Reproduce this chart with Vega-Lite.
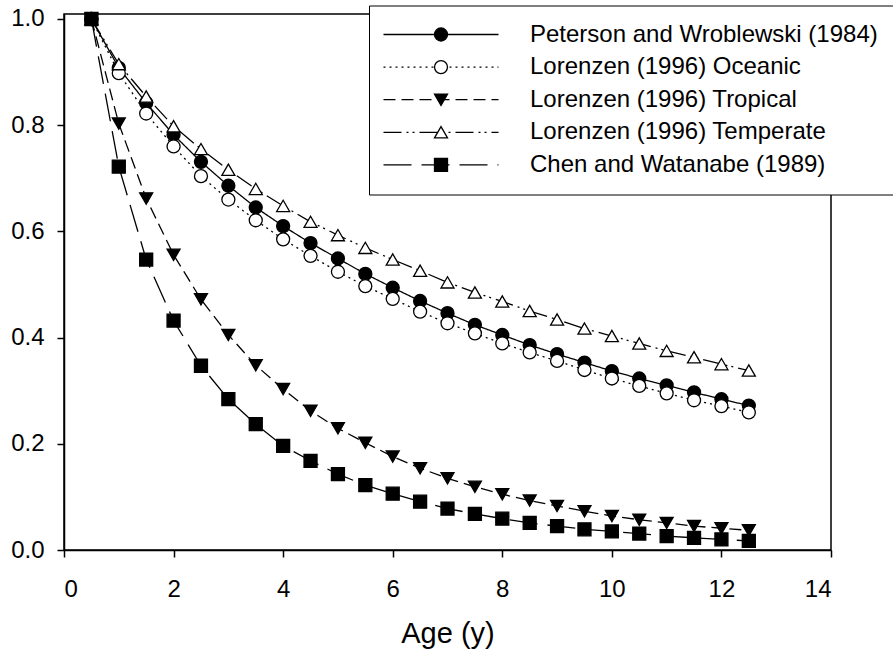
{
  "$schema": "https://vega.github.io/schema/vega-lite/v6.json",
  "autosize": {"type": "none"},
  "padding": {"left": 64, "top": 14, "right": 62, "bottom": 104},
  "width": 767,
  "height": 536,
  "background": "white",
  "config": {
    "view": {"stroke": "black", "strokeWidth": 1.5},
    "font": "Liberation Sans",
    "axis": {
      "grid": false,
      "domainColor": "black",
      "domainWidth": 1.5,
      "tickColor": "black",
      "tickWidth": 1.5,
      "tickSize": 7,
      "labelColor": "black",
      "labelFont": "Liberation Sans",
      "labelFontSize": 24,
      "titleFont": "Liberation Sans",
      "titleFontSize": 29,
      "titleFontWeight": "normal",
      "titleColor": "black"
    }
  },
  "data": {
    "values": [
      {"age": 0.5, "survival": 1.0, "study": "Peterson and Wroblewski (1984)"},
      {"age": 1.0, "survival": 0.908, "study": "Peterson and Wroblewski (1984)"},
      {"age": 1.5, "survival": 0.842, "study": "Peterson and Wroblewski (1984)"},
      {"age": 2.0, "survival": 0.782, "study": "Peterson and Wroblewski (1984)"},
      {"age": 2.5, "survival": 0.731, "study": "Peterson and Wroblewski (1984)"},
      {"age": 3.0, "survival": 0.686, "study": "Peterson and Wroblewski (1984)"},
      {"age": 3.5, "survival": 0.645, "study": "Peterson and Wroblewski (1984)"},
      {"age": 4.0, "survival": 0.610, "study": "Peterson and Wroblewski (1984)"},
      {"age": 4.5, "survival": 0.578, "study": "Peterson and Wroblewski (1984)"},
      {"age": 5.0, "survival": 0.549, "study": "Peterson and Wroblewski (1984)"},
      {"age": 5.5, "survival": 0.520, "study": "Peterson and Wroblewski (1984)"},
      {"age": 6.0, "survival": 0.494, "study": "Peterson and Wroblewski (1984)"},
      {"age": 6.5, "survival": 0.469, "study": "Peterson and Wroblewski (1984)"},
      {"age": 7.0, "survival": 0.446, "study": "Peterson and Wroblewski (1984)"},
      {"age": 7.5, "survival": 0.424, "study": "Peterson and Wroblewski (1984)"},
      {"age": 8.0, "survival": 0.405, "study": "Peterson and Wroblewski (1984)"},
      {"age": 8.5, "survival": 0.386, "study": "Peterson and Wroblewski (1984)"},
      {"age": 9.0, "survival": 0.369, "study": "Peterson and Wroblewski (1984)"},
      {"age": 9.5, "survival": 0.353, "study": "Peterson and Wroblewski (1984)"},
      {"age": 10.0, "survival": 0.337, "study": "Peterson and Wroblewski (1984)"},
      {"age": 10.5, "survival": 0.323, "study": "Peterson and Wroblewski (1984)"},
      {"age": 11.0, "survival": 0.310, "study": "Peterson and Wroblewski (1984)"},
      {"age": 11.5, "survival": 0.297, "study": "Peterson and Wroblewski (1984)"},
      {"age": 12.0, "survival": 0.284, "study": "Peterson and Wroblewski (1984)"},
      {"age": 12.5, "survival": 0.272, "study": "Peterson and Wroblewski (1984)"},
      {"age": 0.5, "survival": 1.0, "study": "Lorenzen (1996) Oceanic"},
      {"age": 1.0, "survival": 0.898, "study": "Lorenzen (1996) Oceanic"},
      {"age": 1.5, "survival": 0.822, "study": "Lorenzen (1996) Oceanic"},
      {"age": 2.0, "survival": 0.760, "study": "Lorenzen (1996) Oceanic"},
      {"age": 2.5, "survival": 0.704, "study": "Lorenzen (1996) Oceanic"},
      {"age": 3.0, "survival": 0.660, "study": "Lorenzen (1996) Oceanic"},
      {"age": 3.5, "survival": 0.621, "study": "Lorenzen (1996) Oceanic"},
      {"age": 4.0, "survival": 0.585, "study": "Lorenzen (1996) Oceanic"},
      {"age": 4.5, "survival": 0.554, "study": "Lorenzen (1996) Oceanic"},
      {"age": 5.0, "survival": 0.524, "study": "Lorenzen (1996) Oceanic"},
      {"age": 5.5, "survival": 0.497, "study": "Lorenzen (1996) Oceanic"},
      {"age": 6.0, "survival": 0.473, "study": "Lorenzen (1996) Oceanic"},
      {"age": 6.5, "survival": 0.449, "study": "Lorenzen (1996) Oceanic"},
      {"age": 7.0, "survival": 0.427, "study": "Lorenzen (1996) Oceanic"},
      {"age": 7.5, "survival": 0.408, "study": "Lorenzen (1996) Oceanic"},
      {"age": 8.0, "survival": 0.389, "study": "Lorenzen (1996) Oceanic"},
      {"age": 8.5, "survival": 0.372, "study": "Lorenzen (1996) Oceanic"},
      {"age": 9.0, "survival": 0.356, "study": "Lorenzen (1996) Oceanic"},
      {"age": 9.5, "survival": 0.339, "study": "Lorenzen (1996) Oceanic"},
      {"age": 10.0, "survival": 0.323, "study": "Lorenzen (1996) Oceanic"},
      {"age": 10.5, "survival": 0.309, "study": "Lorenzen (1996) Oceanic"},
      {"age": 11.0, "survival": 0.295, "study": "Lorenzen (1996) Oceanic"},
      {"age": 11.5, "survival": 0.282, "study": "Lorenzen (1996) Oceanic"},
      {"age": 12.0, "survival": 0.271, "study": "Lorenzen (1996) Oceanic"},
      {"age": 12.5, "survival": 0.259, "study": "Lorenzen (1996) Oceanic"},
      {"age": 0.5, "survival": 1.0, "study": "Lorenzen (1996) Tropical"},
      {"age": 1.0, "survival": 0.803, "study": "Lorenzen (1996) Tropical"},
      {"age": 1.5, "survival": 0.662, "study": "Lorenzen (1996) Tropical"},
      {"age": 2.0, "survival": 0.556, "study": "Lorenzen (1996) Tropical"},
      {"age": 2.5, "survival": 0.472, "study": "Lorenzen (1996) Tropical"},
      {"age": 3.0, "survival": 0.405, "study": "Lorenzen (1996) Tropical"},
      {"age": 3.5, "survival": 0.348, "study": "Lorenzen (1996) Tropical"},
      {"age": 4.0, "survival": 0.303, "study": "Lorenzen (1996) Tropical"},
      {"age": 4.5, "survival": 0.262, "study": "Lorenzen (1996) Tropical"},
      {"age": 5.0, "survival": 0.229, "study": "Lorenzen (1996) Tropical"},
      {"age": 5.5, "survival": 0.202, "study": "Lorenzen (1996) Tropical"},
      {"age": 6.0, "survival": 0.176, "study": "Lorenzen (1996) Tropical"},
      {"age": 6.5, "survival": 0.154, "study": "Lorenzen (1996) Tropical"},
      {"age": 7.0, "survival": 0.135, "study": "Lorenzen (1996) Tropical"},
      {"age": 7.5, "survival": 0.119, "study": "Lorenzen (1996) Tropical"},
      {"age": 8.0, "survival": 0.105, "study": "Lorenzen (1996) Tropical"},
      {"age": 8.5, "survival": 0.093, "study": "Lorenzen (1996) Tropical"},
      {"age": 9.0, "survival": 0.083, "study": "Lorenzen (1996) Tropical"},
      {"age": 9.5, "survival": 0.073, "study": "Lorenzen (1996) Tropical"},
      {"age": 10.0, "survival": 0.064, "study": "Lorenzen (1996) Tropical"},
      {"age": 10.5, "survival": 0.057, "study": "Lorenzen (1996) Tropical"},
      {"age": 11.0, "survival": 0.051, "study": "Lorenzen (1996) Tropical"},
      {"age": 11.5, "survival": 0.045, "study": "Lorenzen (1996) Tropical"},
      {"age": 12.0, "survival": 0.041, "study": "Lorenzen (1996) Tropical"},
      {"age": 12.5, "survival": 0.037, "study": "Lorenzen (1996) Tropical"},
      {"age": 0.5, "survival": 1.0, "study": "Lorenzen (1996) Temperate"},
      {"age": 1.0, "survival": 0.915, "study": "Lorenzen (1996) Temperate"},
      {"age": 1.5, "survival": 0.854, "study": "Lorenzen (1996) Temperate"},
      {"age": 2.0, "survival": 0.798, "study": "Lorenzen (1996) Temperate"},
      {"age": 2.5, "survival": 0.755, "study": "Lorenzen (1996) Temperate"},
      {"age": 3.0, "survival": 0.716, "study": "Lorenzen (1996) Temperate"},
      {"age": 3.5, "survival": 0.680, "study": "Lorenzen (1996) Temperate"},
      {"age": 4.0, "survival": 0.648, "study": "Lorenzen (1996) Temperate"},
      {"age": 4.5, "survival": 0.618, "study": "Lorenzen (1996) Temperate"},
      {"age": 5.0, "survival": 0.593, "study": "Lorenzen (1996) Temperate"},
      {"age": 5.5, "survival": 0.569, "study": "Lorenzen (1996) Temperate"},
      {"age": 6.0, "survival": 0.547, "study": "Lorenzen (1996) Temperate"},
      {"age": 6.5, "survival": 0.526, "study": "Lorenzen (1996) Temperate"},
      {"age": 7.0, "survival": 0.504, "study": "Lorenzen (1996) Temperate"},
      {"age": 7.5, "survival": 0.485, "study": "Lorenzen (1996) Temperate"},
      {"age": 8.0, "survival": 0.468, "study": "Lorenzen (1996) Temperate"},
      {"age": 8.5, "survival": 0.450, "study": "Lorenzen (1996) Temperate"},
      {"age": 9.0, "survival": 0.434, "study": "Lorenzen (1996) Temperate"},
      {"age": 9.5, "survival": 0.417, "study": "Lorenzen (1996) Temperate"},
      {"age": 10.0, "survival": 0.403, "study": "Lorenzen (1996) Temperate"},
      {"age": 10.5, "survival": 0.389, "study": "Lorenzen (1996) Temperate"},
      {"age": 11.0, "survival": 0.375, "study": "Lorenzen (1996) Temperate"},
      {"age": 11.5, "survival": 0.363, "study": "Lorenzen (1996) Temperate"},
      {"age": 12.0, "survival": 0.350, "study": "Lorenzen (1996) Temperate"},
      {"age": 12.5, "survival": 0.338, "study": "Lorenzen (1996) Temperate"},
      {"age": 0.5, "survival": 1.0, "study": "Chen and Watanabe (1989)"},
      {"age": 1.0, "survival": 0.722, "study": "Chen and Watanabe (1989)"},
      {"age": 1.5, "survival": 0.547, "study": "Chen and Watanabe (1989)"},
      {"age": 2.0, "survival": 0.432, "study": "Chen and Watanabe (1989)"},
      {"age": 2.5, "survival": 0.347, "study": "Chen and Watanabe (1989)"},
      {"age": 3.0, "survival": 0.284, "study": "Chen and Watanabe (1989)"},
      {"age": 3.5, "survival": 0.237, "study": "Chen and Watanabe (1989)"},
      {"age": 4.0, "survival": 0.196, "study": "Chen and Watanabe (1989)"},
      {"age": 4.5, "survival": 0.168, "study": "Chen and Watanabe (1989)"},
      {"age": 5.0, "survival": 0.143, "study": "Chen and Watanabe (1989)"},
      {"age": 5.5, "survival": 0.122, "study": "Chen and Watanabe (1989)"},
      {"age": 6.0, "survival": 0.106, "study": "Chen and Watanabe (1989)"},
      {"age": 6.5, "survival": 0.091, "study": "Chen and Watanabe (1989)"},
      {"age": 7.0, "survival": 0.078, "study": "Chen and Watanabe (1989)"},
      {"age": 7.5, "survival": 0.068, "study": "Chen and Watanabe (1989)"},
      {"age": 8.0, "survival": 0.059, "study": "Chen and Watanabe (1989)"},
      {"age": 8.5, "survival": 0.051, "study": "Chen and Watanabe (1989)"},
      {"age": 9.0, "survival": 0.045, "study": "Chen and Watanabe (1989)"},
      {"age": 9.5, "survival": 0.039, "study": "Chen and Watanabe (1989)"},
      {"age": 10.0, "survival": 0.035, "study": "Chen and Watanabe (1989)"},
      {"age": 10.5, "survival": 0.031, "study": "Chen and Watanabe (1989)"},
      {"age": 11.0, "survival": 0.026, "study": "Chen and Watanabe (1989)"},
      {"age": 11.5, "survival": 0.023, "study": "Chen and Watanabe (1989)"},
      {"age": 12.0, "survival": 0.020, "study": "Chen and Watanabe (1989)"},
      {"age": 12.5, "survival": 0.017, "study": "Chen and Watanabe (1989)"}
    ]
  },
  "encoding": {
    "x": {
      "field": "age",
      "type": "quantitative",
      "scale": {"domain": [0, 14], "nice": false, "zero": false},
      "axis": {
        "title": "Age (y)",
        "values": [0, 2, 4, 6, 8, 10, 12, 14],
        "format": "d",
        "labelPadding": 20,
        "titlePadding": 18
      }
    },
    "y": {
      "field": "survival",
      "type": "quantitative",
      "scale": {"domain": [0, 1.0094], "nice": false},
      "axis": {
        "title": null,
        "values": [0, 0.2, 0.4, 0.6, 0.8, 1.0],
        "format": ".1f",
        "labelPadding": 13
      }
    }
  },
  "layer": [
    {
      "mark": {"type": "line", "color": "black", "strokeWidth": 1.3},
      "encoding": {
        "strokeDash": {
          "field": "study",
          "type": "nominal",
          "scale": {
            "domain": ["Peterson and Wroblewski (1984)", "Lorenzen (1996) Oceanic", "Lorenzen (1996) Tropical", "Lorenzen (1996) Temperate", "Chen and Watanabe (1989)"],
            "range": [[1, 0], [2, 4], [12, 6], [18, 5, 2, 4, 2, 5], [28, 10]]
          },
          "legend": {
            "title": null,
            "orient": "none",
            "legendX": 305,
            "legendY": -8.5,
            "padding": 17,
            "rowPadding": 8.6,
            "symbolType": "M-5.75,0L5.75,0",
            "symbolSize": 400,
            "symbolStrokeColor": "black",
            "symbolStrokeWidth": 1.3,
            "symbolOffset": 43,
            "labelOffset": 77,
            "labelFont": "Liberation Sans",
            "labelFontSize": 24,
            "labelColor": "black",
            "labelLimit": 1000,
            "strokeColor": "black",
            "fillColor": "white",
            "zindex": 1,
            "encode": {"legend": {"strokeWidth": {"value": 1.6}}}
          }
        }
      }
    },
    {
      "mark": {"type": "point", "filled": true, "strokeWidth": 1.3, "size": 169, "opacity": 1},
      "encoding": {
        "shape": {
          "field": "study",
          "type": "nominal",
          "scale": {"range": ["square", "circle", "triangle-up", "triangle-down", "circle"]},
          "legend": {
            "title": null,
            "orient": "none",
            "legendX": 305,
            "legendY": -8.5,
            "padding": 17,
            "rowPadding": 8.6,
            "symbolSize": 169,
            "symbolStrokeWidth": 1.3,
            "symbolOffset": 43,
            "labelOffset": 77,
            "labelFontSize": 24,
            "labelOpacity": 0,
            "labelLimit": 1000,
            "values": ["Peterson and Wroblewski (1984)", "Lorenzen (1996) Oceanic", "Lorenzen (1996) Tropical", "Lorenzen (1996) Temperate", "Chen and Watanabe (1989)"],
            "zindex": 2
          }
        },
        "fill": {
          "field": "study",
          "type": "nominal",
          "scale": {"range": ["black", "white", "white", "black", "black"]},
          "legend": {
            "title": null,
            "orient": "none",
            "legendX": 305,
            "legendY": -8.5,
            "padding": 17,
            "rowPadding": 8.6,
            "symbolSize": 169,
            "symbolStrokeWidth": 1.3,
            "symbolOffset": 43,
            "labelOffset": 77,
            "labelFontSize": 24,
            "labelOpacity": 0,
            "labelLimit": 1000,
            "values": ["Peterson and Wroblewski (1984)", "Lorenzen (1996) Oceanic", "Lorenzen (1996) Tropical", "Lorenzen (1996) Temperate", "Chen and Watanabe (1989)"],
            "zindex": 2
          }
        },
        "stroke": {
          "field": "study",
          "type": "nominal",
          "scale": {"range": ["black", "black", "black", "black", "black"]},
          "legend": {
            "title": null,
            "orient": "none",
            "legendX": 305,
            "legendY": -8.5,
            "padding": 17,
            "rowPadding": 8.6,
            "symbolSize": 169,
            "symbolStrokeWidth": 1.3,
            "symbolOffset": 43,
            "labelOffset": 77,
            "labelFontSize": 24,
            "labelOpacity": 0,
            "labelLimit": 1000,
            "values": ["Peterson and Wroblewski (1984)", "Lorenzen (1996) Oceanic", "Lorenzen (1996) Tropical", "Lorenzen (1996) Temperate", "Chen and Watanabe (1989)"],
            "zindex": 2
          }
        }
      }
    }
  ]
}
